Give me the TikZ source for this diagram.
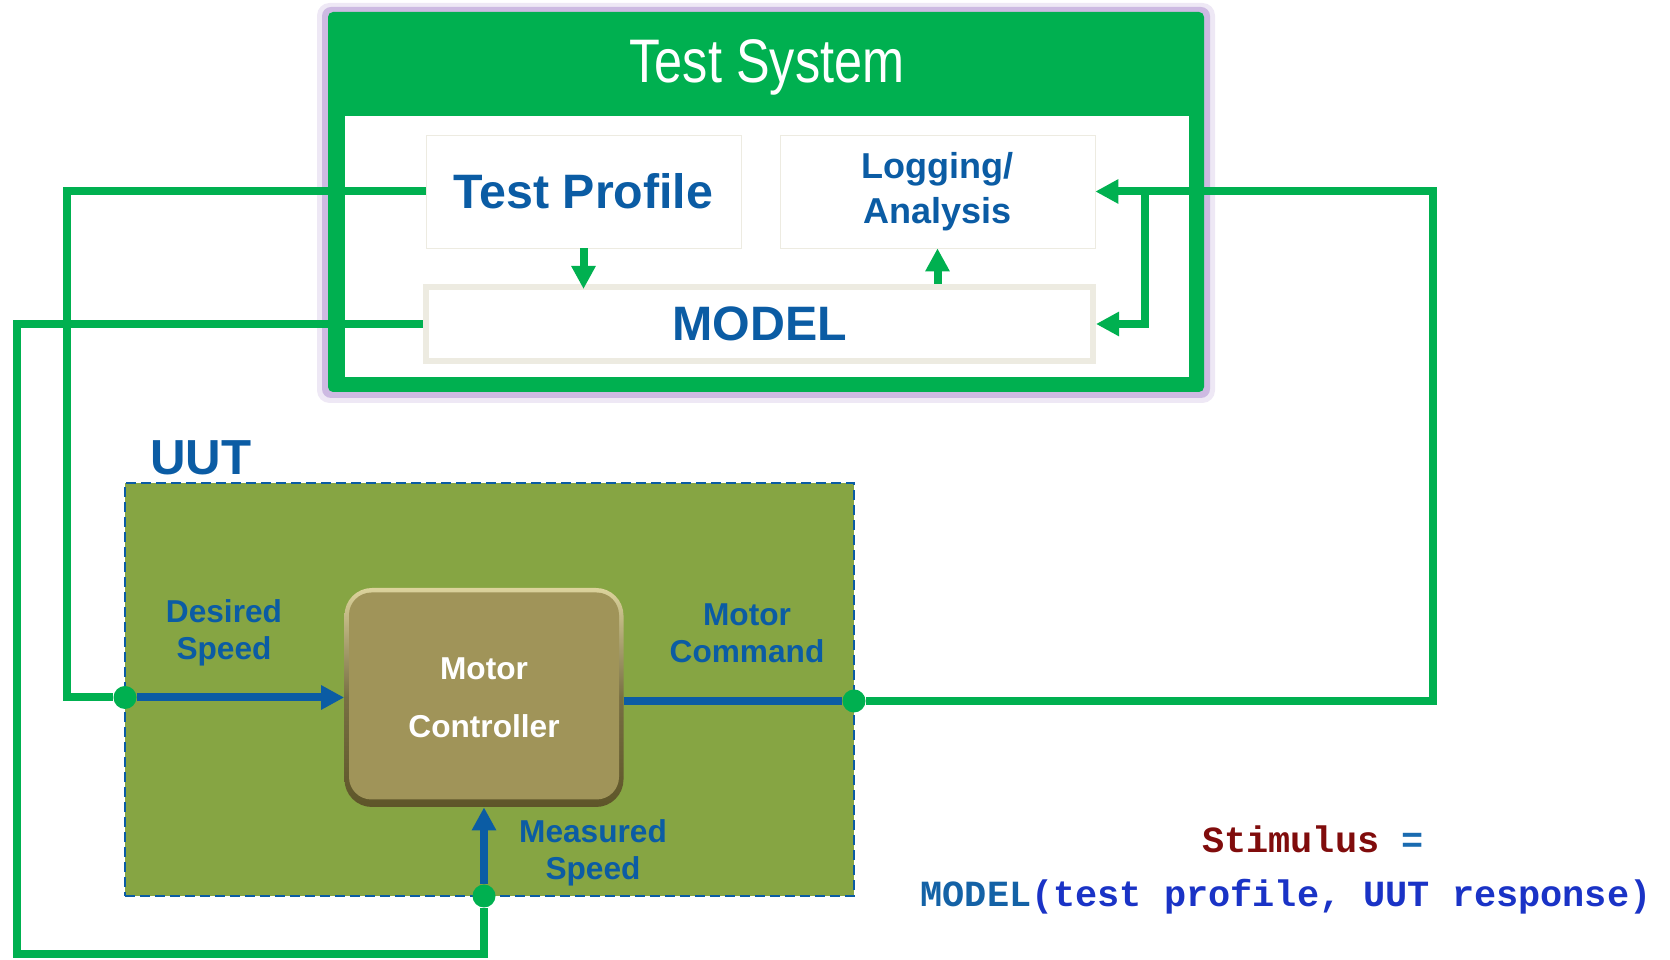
\documentclass[tikz,border=0pt]{standalone}
\usepackage{fontspec}
\usepackage{graphicx}
\setmainfont{Liberation Sans}
\newfontfamily\codefont{Liberation Mono}
\usetikzlibrary{arrows.meta}

\definecolor{tsgreen}{HTML}{00B050}
\definecolor{lblue}{HTML}{0B5CA4}
\definecolor{uutolive}{HTML}{86A543}
\definecolor{mckhaki}{HTML}{A09459}
\definecolor{mclite}{HTML}{DCD39C}
\definecolor{mcdark}{HTML}{5E5529}
\definecolor{boxrim}{HTML}{EDEBE1}
\definecolor{glowa}{HTML}{EEE8F5}
\definecolor{glowb}{HTML}{CDBAE2}
\definecolor{stimred}{HTML}{800C0C}
\definecolor{eqblue}{HTML}{1A6BB0}
\definecolor{codeblue}{HTML}{1A33C6}
\definecolor{modelblue}{HTML}{1462A6}

\tikzset{
  greenline/.style={draw=tsgreen, line width=0.16cm},
  blueline/.style={draw=lblue, line width=0.16cm},
  headarrow/.style={-{Triangle[length=0.46cm,width=0.46cm]}},
  gdot/.style={circle, fill=tsgreen, minimum size=0.46cm, inner sep=0pt},
  tsbox/.style={rectangle, draw=boxrim, fill=white, text=lblue, align=center},
  lbl/.style={text=lblue, align=center, font=\fontsize{18}{21}\selectfont\bfseries},
  mcbox/.style={rectangle, rounded corners=0.55cm, minimum width=5.58cm, minimum height=4.38cm,
    top color=mclite, bottom color=mcdark, middle color=mckhaki!75!black,
    text=white, align=center, font=\fontsize{18}{33}\selectfont\bfseries,
    path picture={\fill[mckhaki, rounded corners=0.45cm]
      ([shift={(0.09,0.15)}]path picture bounding box.south west) rectangle
      ([shift={(-0.09,-0.09)}]path picture bounding box.north east);}},
  uutbox/.style={rectangle, fill=uutolive, draw=lblue, line width=0.04cm,
    dash pattern=on 0.2cm off 0.1cm, minimum width=14.58cm, minimum height=8.26cm}
}

\begin{document}
\begin{tikzpicture}
\useasboundingbox (0,0) rectangle (33.4,19.2);

% Test System frame
\fill[glowa, rounded corners=0.25cm] (6.34,11.14) rectangle (24.30,19.14);
\fill[glowb, rounded corners=0.18cm] (6.44,11.24) rectangle (24.20,19.06);
\fill[tsgreen, rounded corners=0.1cm] (6.56,11.36) rectangle (24.08,18.96);
\fill[white] (6.90,11.66) rectangle (23.78,16.88);
\node[anchor=base, text=white, font=\fontsize{35}{40}\selectfont] (tstitle) at (15.34,17.54)
  {\scalebox{0.82}[1]{Test System}};

% Test System blocks
\node[tsbox, minimum width=6.30cm, minimum height=2.26cm, font=\fontsize{27.5}{30}\selectfont\bfseries]
  (tp) at (11.67,15.37) {Test Profile};
\node[tsbox, minimum width=6.30cm, minimum height=2.26cm, font=\fontsize{20.5}{25.5}\selectfont\bfseries]
  (log) at (18.75,15.37) {Logging/\\Analysis};
\node[tsbox, line width=0.12cm, minimum width=13.34cm, minimum height=1.48cm, font=\fontsize{27.5}{30}\selectfont\bfseries]
  (model) at (15.19,12.72) {MODEL};

% UUT
\node[uutbox] (uut) at (9.79,5.41) {};
\node[anchor=base west, text=lblue, font=\fontsize{28}{30}\selectfont\bfseries] (uutlbl) at (2.88,9.70) {UUT};
\node[mcbox] (mc) at (9.68,5.25) {Motor\\Controller};

\node[gdot] (dsdot) at (2.50,5.25) {};
\node[gdot] (mcdot) at (17.08,5.18) {};
\node[gdot] (msdot) at (9.68,1.28) {};

\node[lbl] (dslbl) at (4.48,6.55) {Desired\\Speed};
\node[lbl] (mclbl) at (14.94,6.53) {Motor\\Command};
\node[lbl] (mslbl) at (11.86,2.15) {Measured\\Speed};

% Signals inside UUT
\draw[blueline, headarrow] (dsdot) -- (mc.west);
\draw[blueline] (mc.east |- mcdot) -- (mcdot);
\draw[blueline, headarrow] (msdot) -- (msdot |- mc.south);

% Test System arrows
\draw[greenline, headarrow, shorten >=-0.1cm] (tp.south) -- (tp.south |- model.north);
\draw[greenline, headarrow] (model.north -| log.south) -- (log.south);

% Loops
\coordinate (lft) at (1.34,5.25);
\coordinate (lft2) at (0.34,0.12);
\coordinate (rgt) at (28.66,0);
\coordinate (brn) at (22.90,0);
\draw[greenline] (tp.west) -| (lft) -- (dsdot);
\draw[greenline] (model.west) -| (lft2) -| (msdot);
\draw[greenline, headarrow] (mcdot) -| (log.east -| rgt) -- (log.east);
\draw[greenline, headarrow] (log.east -| brn) |- (model.east);

% Stimulus
\node[anchor=base, font=\codefont\bfseries\fontsize{21}{25}\selectfont] (stim) at (26.26,2.14)
  {\textcolor{stimred}{Stimulus} \textcolor{eqblue}{=}};
\node[anchor=base, font=\codefont\bfseries\fontsize{21}{25}\selectfont] (stimfn) at (25.72,1.06)
  {\textcolor{modelblue}{MODEL}\textcolor{codeblue}{(test profile, UUT response)}};
\end{tikzpicture}
\end{document}
